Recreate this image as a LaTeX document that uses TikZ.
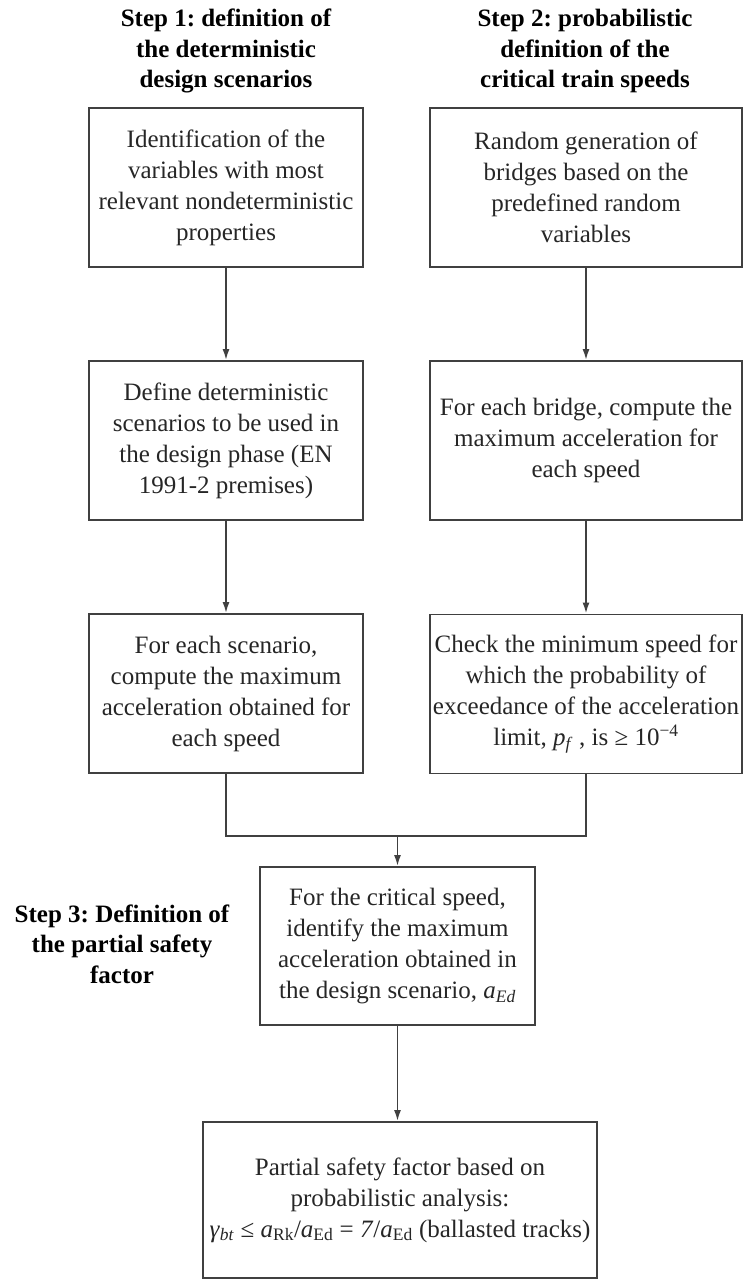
\documentclass[tikz,border=0pt]{standalone}
\usepackage{fontspec}
\setmainfont{Liberation Serif}
\usepackage{tikz}
\usetikzlibrary{arrows.meta}
\usetikzlibrary{positioning}
\frenchspacing
\definecolor{boxline}{HTML}{404040}
\definecolor{boxtext}{HTML}{262626}
\tikzset{box/.style = {draw=boxline, line width=1.9, inner sep=0, align=center, text=boxtext, font=\fontsize{25}{31}\selectfont}}
\tikzset{lbox/.style = {box, minimum width=274, minimum height=159}}
\tikzset{rbox/.style = {box, minimum width=312, minimum height=159}}
\tikzset{steplabel/.style = {align=center, inner sep=0, text=black, font=\bfseries\fontsize{25}{30.5}\selectfont}}
\tikzset{arr/.style = {draw=boxline, line width=1.7, -{Latex[length=11pt,width=7pt]}}}

\begin{document}
\begin{tikzpicture}[x=1pt, y=-1pt]
        \useasboundingbox (0,0) rectangle (743,1279);
        \node [steplabel] (step1) at (226,51) {Step 1: definition of\\the deterministic\\design scenarios};
        \node [steplabel] (step2) at (585,51) {Step 2: probabilistic\\definition of the\\critical train speeds};
        \node [steplabel] (step3) at (122,944) {Step 3: Definition of\\the partial safety\\factor};
        \node [lbox] (ident) at (226,187.5) {Identification of the\\variables with most\\relevant nondeterministic\\properties};
        \node [lbox] (define) at (226,440.5) {Define deterministic\\scenarios to be used in\\the design phase (EN\\1991-2 premises)};
        \node [lbox] (scenacc) at (226,693.5) {For each scenario,\\compute the maximum\\acceleration obtained for\\each speed};
        \node [rbox] (random) at (586,187.5) {Random generation of\\bridges based on the\\predefined random\\variables};
        \node [rbox] (bridgeacc) at (586,440.5) {For each bridge, compute the\\maximum acceleration for\\each speed};
        \node [rbox] (check) at (586,694) {Check the minimum speed for\\which the probability of\\exceedance of the acceleration\\limit, \textit{p}\textsubscript{\textit{f}} , is ≥ 10\textsuperscript{−4}};
        \node [box, minimum width=275, minimum height=158] (critical) at (397.5,946) {For the critical speed,\\identify the maximum\\acceleration obtained in\\the design scenario, \textit{a}\textsubscript{\textit{Ed}}};
        \node [box, minimum width=394, minimum height=156] (factor) at (400,1200) {Partial safety factor based on\\probabilistic analysis:\\\textit{γ}\textsubscript{\textit{bt}} ≤ \textit{a}\textsubscript{Rk}/\textit{a}\textsubscript{Ed} = \textit{7}/\textit{a}\textsubscript{Ed} (ballasted tracks)};
        \coordinate (merge) at (397.5,836);
        \draw [arr] (ident) -- (define);
        \draw [arr] (define) -- (scenacc);
        \draw [arr] (random) -- (bridgeacc);
        \draw [arr] (bridgeacc) -- (check);
        \draw [draw=boxline, line width=1.7] (scenacc.south) |- (merge) -| (check.south);
        \draw [arr] (merge) -- (critical);
        \draw [arr] (critical.south) -- (critical.south |- factor.north);
    \end{tikzpicture}
\end{document}
